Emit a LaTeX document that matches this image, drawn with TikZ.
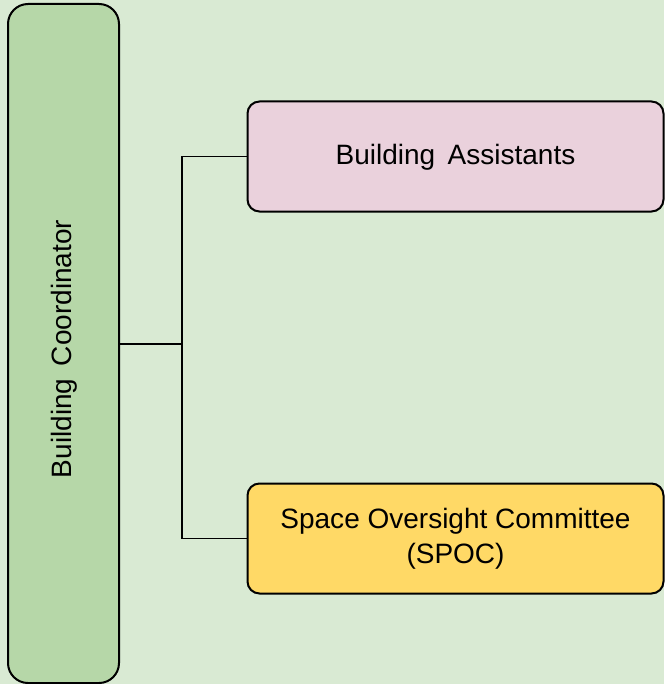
\documentclass[tikz,border=0pt]{standalone}
\usepackage{fontspec}
\setmainfont{Liberation Sans}
\usepackage{xcolor}
\definecolor{bgc}{HTML}{D9EAD3}
\definecolor{leadc}{HTML}{B6D7A8}
\definecolor{assc}{HTML}{EAD1DC}
\definecolor{comc}{HTML}{FFD966}
\usetikzlibrary{positioning,calc}
\tikzset{
  box/.style={draw=black,line width=1pt,rounded corners=6pt,align=center,inner sep=2pt,
    minimum width=208pt,minimum height=55pt,font=\fontsize{14}{17.5}\selectfont},
  leadbox/.style={box,fill=leadc,rounded corners=10pt,minimum width=55.5pt,minimum height=339.5pt},
  assbox/.style={box,fill=assc},
  combox/.style={box,fill=comc},
  link/.style={draw=black,line width=0.8pt},
}
\begin{document}
\begin{tikzpicture}[x=0.5pt,y=-0.5pt]
\fill[bgc] (0,0) rectangle (664,684);
\useasboundingbox (0,0) rectangle (664,684);
\node[leadbox] (coord) at (63.5,343.5) {};
\node[rotate=90,font=\fontsize{14}{17.5}\selectfont] (coordtxt) at (64,349) {Building\ \,Coordinator};
\node[assbox,text height=11pt] (assist) at (455.5,156.5) {Building\ \,Assistants};
\node[combox] (spoc) at (455.5,538.5) {Space Oversight Committee\\(SPOC)};
\coordinate (fork) at (182,344);
\draw[link] (coord.east |- fork) -- (fork);
\draw[link] (assist.west) -| (fork) |- (spoc.west);
\end{tikzpicture}
\end{document}
